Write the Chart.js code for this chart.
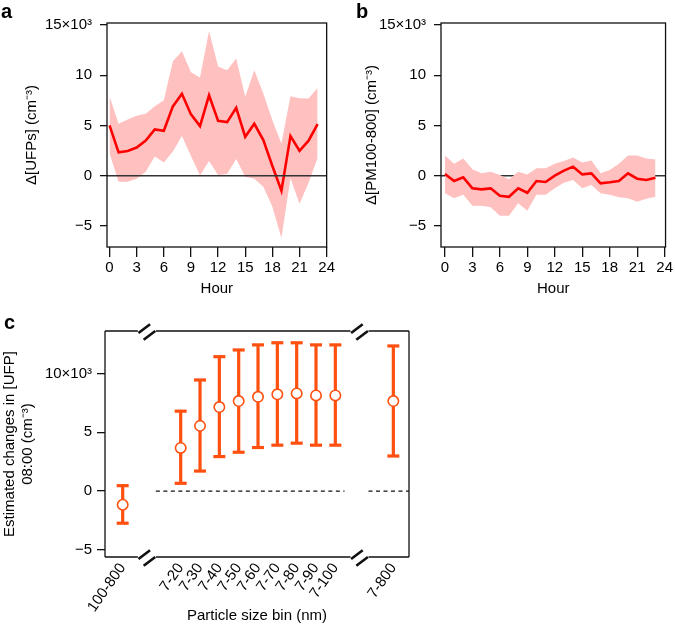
<!DOCTYPE html>
<html>
<head>
<meta charset="utf-8">
<script src="https://cdn.jsdelivr.net/npm/chart.js@4.4.1/dist/chart.umd.min.js"></script>
<style>
  body { margin: 0; background: #fff; }
  #wrap { position: relative; width: 675px; height: 625px; font-family: 'Liberation Sans', Arial, sans-serif; }
  canvas { position: absolute; }
  .tag { position: absolute; font-weight: bold; font-size: 20px; line-height: 20px; }
</style>
</head>
<body>
<div id="wrap">
  <canvas id="chartA" width="337" height="300" style="left:0;top:0"></canvas>
  <canvas id="chartB" width="338" height="300" style="left:337px;top:0"></canvas>
  <canvas id="chartC" width="420" height="325" style="left:0;top:300px"></canvas>
  <div class="tag" style="left:1px;top:1px">a</div>
  <div class="tag" style="left:356px;top:1px">b</div>
  <div class="tag" style="left:4px;top:312px">c</div>
</div>
<script>
// hourly values, in 10^3 cm^-3
const hours = [0, 1, 2, 3, 4, 5, 6, 7, 8, 9, 10, 11, 12, 13, 14, 15, 16, 17, 18, 19, 20, 21, 22, 23];
const ufpMean  = [5.0, 2.32, 2.45, 2.8, 3.5, 4.6, 4.47, 6.9, 8.15, 6.1, 4.93, 8.0, 5.46, 5.33, 6.75, 3.87, 5.17, 3.54, 0.96, -1.49, 3.94, 2.48, 3.48, 5.13];
const ufpUpper = [7.9, 5.17, 5.6, 5.96, 6.16, 6.9, 7.5, 11.4, 12.4, 10.3, 9.77, 14.4, 10.86, 10.5, 11.66, 7.85, 10.5, 8.18, 5.53, 3.2, 7.9, 7.7, 7.68, 8.74];
const ufpLower = [2.2, -0.6, -0.6, -0.3, 0.4, 1.9, 1.3, 2.4, 3.94, 1.95, 0.03, 1.46, 0.07, 0.17, 1.66, -0.1, -0.3, -1.1, -3.1, -6.2, -0.26, -2.8, -0.7, 1.75];
const pmMean  = [0.17, -0.53, -0.17, -1.26, -1.36, -1.26, -2.0, -2.1, -1.26, -1.7, -0.53, -0.63, 0.0, 0.5, 0.9, 0.13, 0.23, -0.76, -0.66, -0.53, 0.23, -0.3, -0.43, -0.2];
const pmUpper = [2.0, 1.2, 1.7, 0.63, 0.23, 0.4, 0.07, -0.36, 0.4, 0.13, 0.73, 0.73, 1.2, 1.46, 1.8, 1.3, 1.5, 0.23, 0.56, 1.2, 2.0, 2.0, 1.7, 1.6];
const pmLower = [-1.75, -2.25, -1.9, -3.0, -3.0, -3.15, -4.0, -4.0, -2.75, -3.5, -1.9, -1.9, -1.26, -0.7, -0.43, -1.26, -0.93, -1.75, -1.9, -2.15, -2.25, -2.6, -2.3, -2.1];

const hourTicks = [0, 3, 6, 9, 12, 15, 18, 21, 24];
const hourYTicks = [-5, 0, 5, 10, 15];
const hourYTickText = ['\u22125', '0', '5', '10', '15\u00d710\u00b3'];

// panel c: size bins (blank slots are the axis breaks)
const sizeBins = ['100-800', '', '', '7-20', '7-30', '7-40', '7-50', '7-60', '7-70', '7-80', '7-90', '7-100', '', '', '7-800'];
const binEst  = [-1.16, 3.67, 5.54, 7.14, 7.65, 8.01, 8.22, 8.30, 8.13, 8.13, 7.65];
const binLow  = [-2.73, 0.66, 1.70, 2.93, 3.30, 3.70, 3.90, 4.07, 3.90, 3.90, 2.98];
const binHigh = [0.46, 6.79, 9.44, 11.42, 11.99, 12.42, 12.60, 12.60, 12.42, 12.42, 12.33];
const binYTicks = [-5, 0, 5, 10];
const binYTickText = ['\u22125', '0', '5', '10\u00d710\u00b3'];
const axisBreaks = [1.25, 12.25];

Chart.defaults.font.family = "'Liberation Sans', Arial, Helvetica, sans-serif";
Chart.defaults.font.size = 15;
Chart.defaults.color = '#000';
Chart.defaults.animation = false;

const RED = '#ff0000';
const PINK = '#ffc0c0';
const ORANGE = '#ff5010';

const framePlugin = {
  id: 'frame',
  beforeDatasetsDraw(chart, args, opts) {
    if (!opts.zeroOnTop) drawZero(chart);
  },
  afterDatasetsDraw(chart, args, opts) {
    if (opts.zeroOnTop) drawZero(chart);
    const a = chart.chartArea, ctx = chart.ctx;
    ctx.save();
    ctx.strokeStyle = '#111';
    ctx.lineWidth = 1.3;
    ctx.strokeRect(a.left, a.top, a.right - a.left, a.bottom - a.top);
    ctx.restore();
  }
};

function drawZero(chart) {
  const a = chart.chartArea, ctx = chart.ctx;
  const y = chart.scales.y.getPixelForValue(0);
  ctx.save();
  ctx.strokeStyle = '#333';
  ctx.lineWidth = 1.5;
  ctx.beginPath();
  ctx.moveTo(a.left, y);
  ctx.lineTo(a.right, y);
  ctx.stroke();
  ctx.restore();
}

function hourChart(id, mean, lower, upper, yTitle, cfg) {
  return new Chart(document.getElementById(id), {
    type: 'line',
    data: {
      labels: hours,
      datasets: [
        { data: lower.map((v, i) => ({ x: hours[i], y: v })), borderWidth: 0, pointRadius: 0, fill: false, order: 2 },
        { data: upper.map((v, i) => ({ x: hours[i], y: v })), borderWidth: 0, pointRadius: 0, fill: '-1', backgroundColor: PINK, order: 1 },
        { data: mean.map((v, i) => ({ x: hours[i], y: v })), borderColor: RED, borderWidth: 2.6, pointRadius: 0, fill: false, order: 0 }
      ]
    },
    options: {
      responsive: false,
      layout: { padding: { top: 23, right: cfg.padRight, left: 0, bottom: 0 } },
      plugins: { legend: { display: false }, tooltip: { enabled: false }, frame: { zeroOnTop: cfg.zeroOnTop } },
      scales: {
        x: {
          type: 'linear', min: cfg.xMin, max: cfg.xMax,
          afterBuildTicks: s => { s.ticks = hourTicks.map(v => ({ value: v })); },
          afterFit: s => { s.height = 53; },
          ticks: { autoSkip: false, maxRotation: 0, padding: 2 },
          grid: { drawOnChartArea: false, tickLength: 10, color: '#111', lineWidth: 1.3 },
          border: { display: false },
          title: { display: true, text: 'Hour', padding: { top: 0, bottom: 2 } }
        },
        y: {
          min: -7.1, max: 15.2,
          afterBuildTicks: s => { s.ticks = hourYTicks.map(v => ({ value: v })); },
          afterFit: s => { s.width = cfg.yWidth; },
          ticks: { padding: 8, callback: v => hourYTickText[hourYTicks.indexOf(v)] },
          grid: { drawOnChartArea: false, tickLength: 7, color: '#111', lineWidth: 1.3 },
          border: { display: false },
          title: { display: true, text: yTitle, padding: { top: cfg.titlePad, bottom: 0 } }
        }
      }
    },
    plugins: [framePlugin]
  });
}

hourChart('chartA', ufpMean, ufpLower, ufpUpper, '\u0394[UFPs] (cm\u207b\u00b3)',
  { xMin: -0.28, xMax: 24, padRight: 5, yWidth: 107, zeroOnTop: true, titlePad: 23 });
hourChart('chartB', pmMean, pmLower, pmUpper, '\u0394[PM100-800] (cm\u207b\u00b3)',
  { xMin: -0.43, xMax: 24.1, padRight: 7, yWidth: 104, zeroOnTop: false, titlePad: 26 });

// panel c
const binSlots = sizeBins.map((b, i) => b ? i : -1).filter(i => i >= 0);

const breakPlugin = {
  id: 'breaks',
  afterDatasetsDraw(chart) {
    const a = chart.chartArea, ctx = chart.ctx, xs = chart.scales.x;
    const bx = axisBreaks.map(v => xs.getPixelForValue(v));
    const y0 = chart.scales.y.getPixelForValue(0);
    ctx.save();
    // dashed zero line, skipping the first compartment
    ctx.strokeStyle = '#111';
    ctx.lineWidth = 1.2;
    ctx.setLineDash([4, 3.5]);
    ctx.beginPath();
    ctx.moveTo(bx[0] + 9, y0); ctx.lineTo(bx[1] - 15, y0);
    ctx.moveTo(bx[1] + 9, y0); ctx.lineTo(a.right, y0);
    ctx.stroke();
    ctx.setLineDash([]);
    // frame with gaps at the breaks
    ctx.lineWidth = 1.3;
    ctx.beginPath();
    ctx.moveTo(a.left, a.top); ctx.lineTo(a.left, a.bottom);
    ctx.moveTo(a.right, a.top); ctx.lineTo(a.right, a.bottom);
    [a.top, a.bottom].forEach(y => {
      ctx.moveTo(a.left, y); ctx.lineTo(bx[0] - 9, y);
      ctx.moveTo(bx[0] + 9, y); ctx.lineTo(bx[1] - 9, y);
      ctx.moveTo(bx[1] + 9, y); ctx.lineTo(a.right, y);
    });
    ctx.stroke();
    // slanted break marks
    ctx.lineWidth = 2.6;
    ctx.beginPath();
    bx.forEach(x => {
      [a.top, a.bottom].forEach(y => {
        [-1, 1].forEach(k => {
          const cx = x + k * 2.6, cy = y + 1 + k * 3.4;
          ctx.moveTo(cx - 5.8, cy + 4.4);
          ctx.lineTo(cx + 5.8, cy - 4.4);
        });
      });
    });
    ctx.stroke();
    ctx.restore();
  }
};

new Chart(document.getElementById('chartC'), {
  type: 'line',
  data: {
    datasets: [
      {
        data: binSlots.flatMap((s, k) => [{ x: s, y: binLow[k] }, { x: s, y: binHigh[k] }, { x: s, y: null }]),
        showLine: true, spanGaps: false, borderColor: ORANGE, borderWidth: 3.2, order: 1,
        pointStyle: 'line', pointRadius: 6, pointBorderColor: ORANGE, pointBorderWidth: 3.2, fill: false
      },
      {
        data: binSlots.map((s, k) => ({ x: s, y: binEst[k] })),
        showLine: false, pointStyle: 'circle', pointRadius: 5.2, pointBorderWidth: 1.6, order: 0,
        pointBackgroundColor: '#fff', pointBorderColor: ORANGE
      }
    ]
  },
  options: {
    responsive: false,
    layout: { padding: { top: 31, right: 11, left: 0, bottom: 0 } },
    plugins: { legend: { display: false }, tooltip: { enabled: false } },
    scales: {
      x: {
        type: 'linear', min: -0.915, max: 14.81,
        afterBuildTicks: s => { s.ticks = sizeBins.map((b, i) => ({ value: i })); },
        afterFit: s => { s.height = 68; },
        ticks: { autoSkip: false, minRotation: 55, maxRotation: 55, padding: 3, callback: v => sizeBins[v] },
        grid: { display: false, drawTicks: false },
        border: { display: false },
        title: { display: true, text: 'Particle size bin (nm)', padding: { top: 0, bottom: 0 } }
      },
      y: {
        min: -5.6, max: 13.6,
        afterBuildTicks: s => { s.ticks = binYTicks.map(v => ({ value: v })); },
        afterFit: s => { s.width = 105; },
        ticks: { padding: 5, callback: v => binYTickText[binYTicks.indexOf(v)] },
        grid: { drawOnChartArea: false, tickLength: 8, color: '#111', lineWidth: 1.3 },
        border: { display: false },
        title: {
          display: true, text: ['Estimated changes in [UFP]', '08:00 (cm\u207b\u00b3)'],
          font: { lineHeight: 1.25 }, padding: { top: 0, bottom: 0 }
        }
      }
    }
  },
  plugins: [breakPlugin]
});
</script>
</body>
</html>
